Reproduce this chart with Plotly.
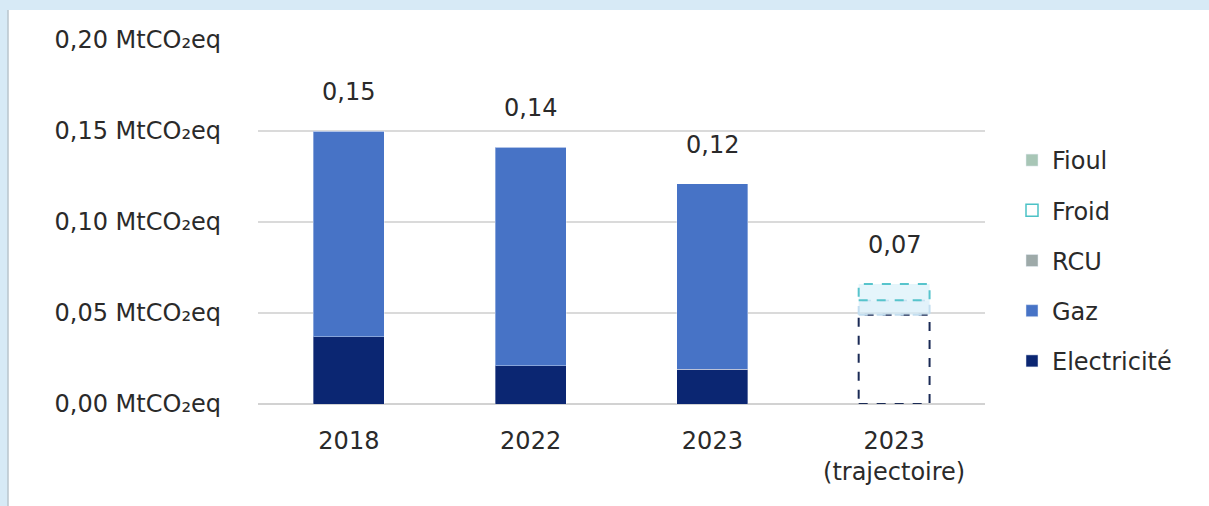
import plotly.graph_objects as go

# Emissions by energy source, MtCO2eq
categories = ["2018", "2022", "2023", "2023<br>(trajectoire)"]
electricite = [0.037, 0.021, 0.019, 0.049]
gaz = [0.113, 0.120, 0.102, 0.008]
rcu = [0.0, 0.0, 0.0, 0.0]
froid = [0.0, 0.0, 0.0, 0.009]
fioul = [0.0, 0.0, 0.0, 0.0]
projected = [False, False, False, True]

y_ticks = [0.0, 0.05, 0.10, 0.15, 0.20]
y_ticktext = ["0,00 MtCO₂eq", "0,05 MtCO₂eq", "0,10 MtCO₂eq", "0,15 MtCO₂eq", "0,20 MtCO₂eq"]

colors = {
    "Fioul": "#a8c6b6",
    "Froid": "#4cc2c6",
    "RCU": "#9eaaa9",
    "Gaz": "#4773c6",
    "Electricité": "#0b2672",
}

FONT = "DejaVu Sans"
FS = 24
TXT = "#2a2a2a"
BAR_W = 0.39
W, H = 1209, 506
L, R, T, B = 258, 224, 40, 102
PW, PH = W - L - R, H - T - B

x = list(range(len(categories)))
solid_x = [i for i in x if not projected[i]]
proj_x = [i for i in x if projected[i]]

fig = go.Figure()

# Solid stacked bars, drawn bottom-up
for name, vals in [("Electricité", electricite), ("RCU", rcu), ("Gaz", gaz), ("Fioul", fioul)]:
    fig.add_trace(go.Bar(
        x=solid_x, y=[vals[i] for i in solid_x], width=BAR_W,
        marker=dict(color=colors[name], line=dict(color="rgba(255,255,255,0.35)", width=1)),
        name=name, legendgroup=name, showlegend=False, hoverinfo="skip",
    ))

# Projected bar drawn as dashed outlined boxes
def dashed_box(i, base, top, line_color, fill_color):
    x0, x1 = i - BAR_W / 2, i + BAR_W / 2
    fig.add_trace(go.Scatter(
        x=[x0, x1, x1, x0, x0], y=[base, base, top, top, base],
        mode="lines", fill="toself", fillcolor=fill_color,
        line=dict(color=line_color, width=2, dash="dash"),
        showlegend=False, hoverinfo="skip",
    ))

for i in proj_x:
    b0 = 0.0
    b1 = b0 + electricite[i]
    b2 = b1 + gaz[i]
    b3 = b2 + froid[i]
    dashed_box(i, b0, b1, "#1a2a55", "rgba(255,255,255,0)")
    dashed_box(i, b1, b2, "#c3def0", "rgba(214,236,248,0.7)")
    dashed_box(i, b2, b3, "#57c4cc", "rgba(222,242,250,0.8)")

# Legend entries, top to bottom
for name in ["Fioul", "Froid", "RCU", "Gaz", "Electricité"]:
    if name == "Froid":
        marker = dict(color="white", line=dict(color=colors[name], width=1.5))
    else:
        marker = dict(color=colors[name])
    fig.add_trace(go.Bar(
        x=[None], y=[None], marker=marker, name=name,
        legendgroup=name, showlegend=True, hoverinfo="skip",
    ))

# Total labels above each bar
for i in x:
    total = electricite[i] + gaz[i] + rcu[i] + froid[i] + fioul[i]
    fig.add_annotation(
        x=i, y=total, text=f"{total:.2f}".replace(".", ","),
        showarrow=False, yanchor="bottom", yshift=23,
        font=dict(family=FONT, size=FS, color=TXT),
    )

# Framing: light blue border at the top and left edges
px = lambda v: (v - L) / PW
py = lambda v: (H - B - v) / PH
fig.add_shape(type="rect", xref="paper", yref="paper", layer="below",
              x0=px(8), x1=px(W + 5), y0=py(H + 5), y1=py(10),
              fillcolor="white", line=dict(width=0))
fig.add_shape(type="line", xref="paper", yref="paper", layer="below",
              x0=px(8), x1=px(8), y0=py(H + 5), y1=py(10),
              line=dict(color="#b9c4cc", width=1.5))

fig.update_layout(
    width=W, height=H,
    margin=dict(l=L, r=R, t=T, b=B),
    paper_bgcolor="#d7eaf6",
    plot_bgcolor="white",
    barmode="stack",
    font=dict(family=FONT, size=FS, color=TXT),
    legend=dict(
        x=px(1012), y=py(138), xanchor="left", yanchor="top",
        traceorder="grouped", tracegroupgap=16,
        font=dict(family=FONT, size=FS, color=TXT),
        bgcolor="rgba(0,0,0,0)", itemwidth=30,
    ),
    xaxis=dict(
        range=[-0.5, len(categories) - 0.5],
        tickvals=x, ticktext=categories,
        showgrid=False, zeroline=False, showline=False,
        ticks="", ticklabelstandoff=20,
        tickfont=dict(family=FONT, size=FS, color=TXT),
    ),
    yaxis=dict(
        range=[0, 0.2],
        tickvals=y_ticks, ticktext=y_ticktext,
        showgrid=True, gridcolor="#dadada", gridwidth=1.5,
        zeroline=True, zerolinecolor="#d2d2d2", zerolinewidth=1.5,
        showline=False, ticks="", ticklabelstandoff=36,
        tickfont=dict(family=FONT, size=FS, color=TXT),
    ),
)

fig.write_html("out.html")
